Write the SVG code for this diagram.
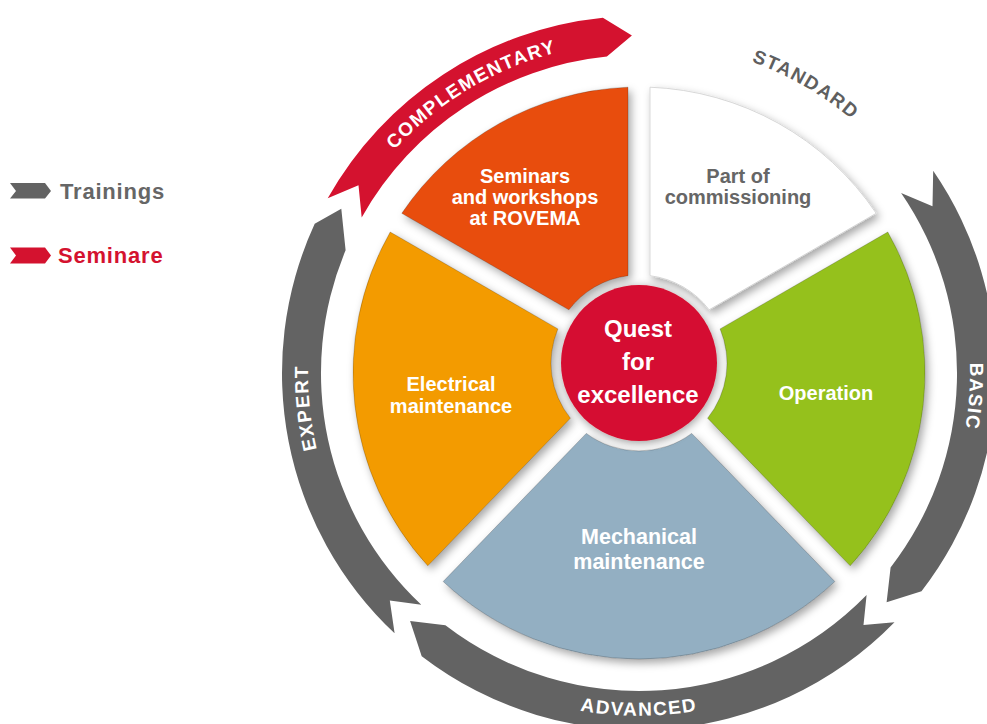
<svg xmlns="http://www.w3.org/2000/svg" width="987" height="724" viewBox="0 0 987 724">
<style>
.lbl{font-family:"Liberation Sans",Arial,sans-serif;font-weight:bold;font-size:20px;text-anchor:middle}
.w{fill:#ffffff}
.g{fill:#666666}
.ring{font-family:"Liberation Sans",Arial,sans-serif;font-weight:bold;font-size:19px;letter-spacing:1.5px}
.band{fill:#636363}
.seg{stroke:rgba(0,0,0,0.25);stroke-width:0.8}
.leg{font-family:"Liberation Sans",Arial,sans-serif;font-weight:bold;font-size:22px;letter-spacing:0.8px}
</style>
<defs>
<filter id="sh" x="-20%" y="-20%" width="150%" height="150%">
<feDropShadow dx="3" dy="4" stdDeviation="4" flood-color="#000" flood-opacity="0.35"/>
</filter>
<filter id="glow" x="-30%" y="-30%" width="160%" height="160%">
<feDropShadow dx="1" dy="2" stdDeviation="5" flood-color="#000" flood-opacity="0.4"/>
</filter>
<path id="pComp" d="M326.0,265.2 A331,331 0 0 1 690.8,46.1"/>
<path id="pStd" d="M639,42 A331,331 0 0 1 925.7,207.5"/>
<path id="pBasic" d="M936.5,227.9 A331,331 0 0 1 913.4,558.1"/>
<path id="pExp" d="M371.2,567.6 A331,331 0 0 1 336.6,238.4"/>
<path id="pAdv" d="M467.5,670 A344,344 0 0 0 810.5,670"/>
</defs>

<g id="legend">
<polygon points="10,183 45,183 51,191 45,198.5 10,198.5 16,191" fill="#636363"/>
<text class="leg" x="60" y="199" fill="#666666">Trainings</text>
<polygon points="10,247.5 45,247.5 51,255.5 45,263.5 10,263.5 16,255.5" fill="#D4122F"/>
<text class="leg" x="58" y="263" fill="#D4122F">Seminare</text>
</g>

<g id="connectors">
<g id="arrow-complementary">
<path d="M327.7,198.3 A357,357 0 0 1 602.9,17.8 L631.9,35.6 L606.9,56.6 A318,318 0 0 0 361.7,217.4 L358.5,185.2 Z" fill="#D4122F"/>
<text class="ring w"><textPath href="#pComp" startOffset="50%" text-anchor="middle">COMPLEMENTARY</textPath></text>
</g>
<g id="label-standard">
<text class="ring" fill="#5f5f5f"><textPath href="#pStd" startOffset="50%" text-anchor="middle">STANDARD</textPath></text>
</g>
<g id="arrow-basic">
<path class="band" d="M933.2,170.8 A357,357 0 0 1 921.5,591.3 L886.6,602.3 L890.6,567.5 A318,318 0 0 0 901.1,192.9 L932.5,206.3 Z"/>
<text class="ring w"><textPath href="#pBasic" startOffset="50%" text-anchor="middle">BASIC</textPath></text>
</g>
<g id="arrow-advanced">
<path class="band" d="M894.5,622.3 A357,357 0 0 1 421.7,656.2 L410.1,621.0 L445.4,625.3 A318,318 0 0 0 866.6,595.1 L863.5,625 Z"/>
<text class="ring w"><textPath href="#pAdv" startOffset="50%" text-anchor="middle">ADVANCED</textPath></text>
</g>
<g id="arrow-expert">
<path class="band" d="M394.6,633.3 A357,357 0 0 1 314.7,223.8 L341.3,208.7 L345.6,250.3 A318,318 0 0 0 421.3,604.8 L389.8,600.6 Z"/>
<text class="ring w"><textPath href="#pExp" startOffset="50%" text-anchor="middle">EXPERT</textPath></text>
</g>
</g>

<g id="seg-seminars">
<path class="seg" filter="url(#sh)" d="M401.8,213.3 A286,286 0 0 1 628,87.2 L628,275.7 A88,88 0 0 0 568.9,309.8 Z" fill="#E84E0F"/>
<text class="lbl w" x="525" y="183">Seminars</text>
<text class="lbl w" x="525" y="204">and workshops</text>
<text class="lbl w" x="525" y="225">at ROVEMA</text>
</g>

<g id="seg-commissioning">
<path filter="url(#sh)" d="M650,87.2 A286,286 0 0 1 876.2,213.3 L709.1,309.8 A88,88 0 0 0 650,275.7 Z" fill="#ffffff" stroke="#cfcfcf" stroke-width="0.8"/>
<text class="lbl g" x="738" y="183">Part of</text>
<text class="lbl g" x="738" y="204">commissioning</text>
</g>

<g id="seg-operation">
<path class="seg" filter="url(#sh)" d="M887.8,232.0 A286,286 0 0 1 850.2,565.8 L707.6,418.2 A88,88 0 0 0 720.1,328.9 Z" fill="#95C11F"/>
<text class="lbl w" x="826" y="400">Operation</text>
</g>

<g id="seg-mechanical">
<path class="seg" filter="url(#sh)" d="M834.8,581.5 A286,286 0 0 1 443.2,581.5 L586.3,433.4 A88,88 0 0 0 691.7,433.4 Z" fill="#93AFC2"/>
<text class="lbl w" x="639" y="544" style="font-size:21.5px">Mechanical</text>
<text class="lbl w" x="639" y="569" style="font-size:21.5px">maintenance</text>
</g>

<g id="seg-electrical">
<path class="seg" filter="url(#sh)" d="M427.8,565.8 A286,286 0 0 1 390.2,232.0 L557.9,328.9 A88,88 0 0 0 570.4,418.2 Z" fill="#F39B00"/>
<text class="lbl w" x="451" y="391">Electrical</text>
<text class="lbl w" x="451" y="413">maintenance</text>
</g>

<g id="center">
<circle cx="639" cy="363" r="78" fill="#D51130" filter="url(#glow)"/>
<text class="lbl w" x="638" y="337" style="font-size:24px">Quest</text>
<text class="lbl w" x="638" y="370" style="font-size:24px">for</text>
<text class="lbl w" x="638" y="403" style="font-size:24px">excellence</text>
</g>
</svg>
